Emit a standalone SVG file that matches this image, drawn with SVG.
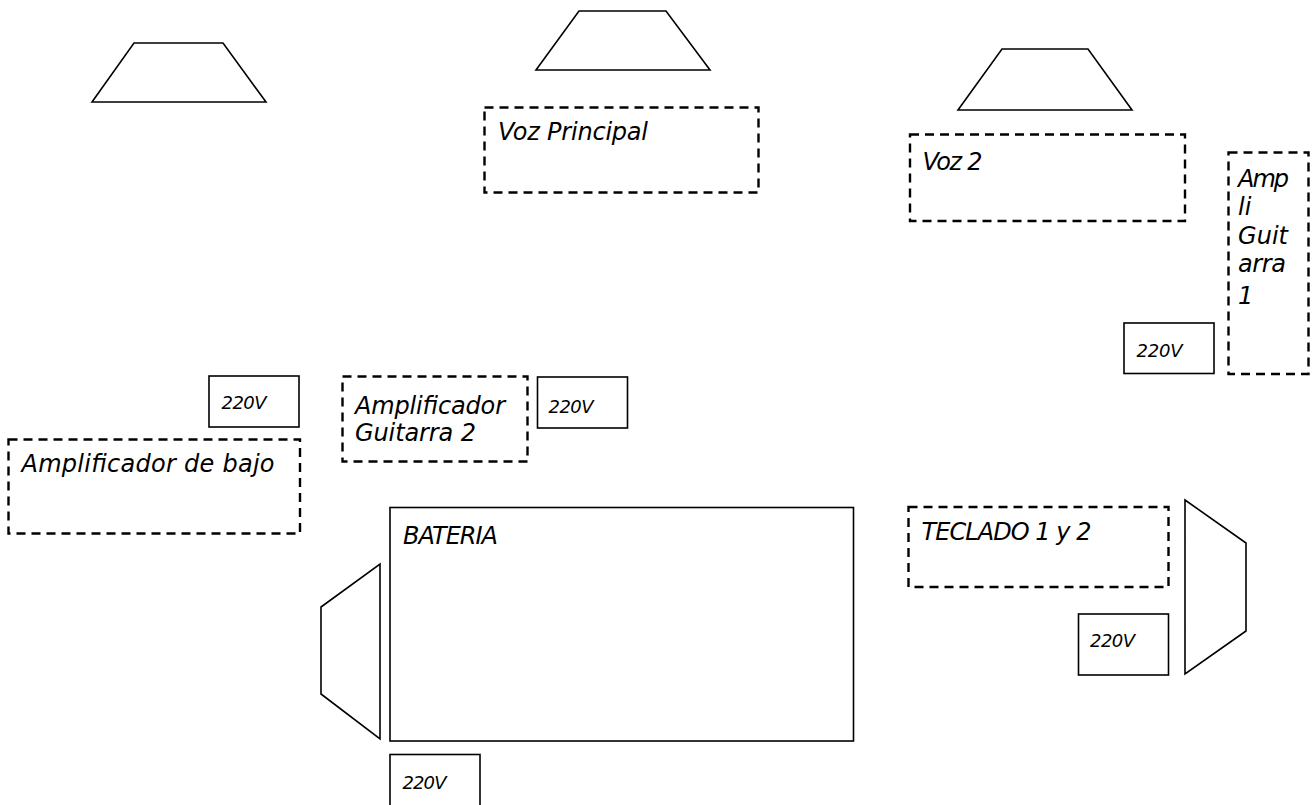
<svg xmlns="http://www.w3.org/2000/svg" width="1312" height="805" viewBox="0 0 1312 805">
<style>
.bg{fill:#ffffff}
.spk{fill:#ffffff;stroke:#000;stroke-width:1.6;stroke-linejoin:miter}
.solid{fill:#ffffff;stroke:#000;stroke-width:1.6}
.dash{fill:#ffffff;stroke:#000;stroke-width:2.4;stroke-dasharray:9 6}
.lbl{font-family:"DejaVu Sans",sans-serif;font-style:italic;font-size:24px;fill:#000}
.pw{font-family:"DejaVu Sans",sans-serif;font-style:italic;font-size:18px;fill:#000}
</style>
<rect class="bg" x="0" y="0" width="1312" height="805"/>
<g id="speaker-1"><polygon class="spk" points="134,43 223,43 266,102 92,102"/></g>
<g id="speaker-2"><polygon class="spk" points="579,11 666,11 710,70 536,70"/></g>
<g id="speaker-3"><polygon class="spk" points="1002,49 1088,49 1132,110 958,110"/></g>
<g id="speaker-drums"><polygon class="spk" points="380,564 380,739 321,694 321,607"/></g>
<g id="speaker-keys"><polygon class="spk" points="1185,500 1246,543 1246,631 1185,674"/></g>

<g id="voz-principal">
<rect class="dash" x="484.5" y="107.5" width="274" height="85"/>
<text class="lbl" x="498" y="139.5" textLength="150">Voz Principal</text>
</g>
<g id="voz-2">
<rect class="dash" x="910" y="134.5" width="275" height="86.5"/>
<text class="lbl" x="922.5" y="169.5" textLength="60">Voz 2</text>
</g>
<g id="ampli-guitarra-1">
<rect class="dash" x="1228.5" y="152.5" width="80" height="221.5"/>
<text class="lbl" x="1238" y="186.5" textLength="51">Amp</text>
<text class="lbl" x="1238" y="215">li</text>
<text class="lbl" x="1238" y="243.5" textLength="50">Guit</text>
<text class="lbl" x="1238" y="272" textLength="48">arra</text>
<text class="lbl" x="1238" y="304">1</text>
</g>
<g id="power-1">
<rect class="solid" x="1124" y="323" width="90" height="50.5"/>
<text class="pw" x="1136.5" y="357" textLength="46">220V</text>
</g>
<g id="power-bajo">
<rect class="solid" x="209" y="376" width="90" height="51"/>
<text class="pw" x="221.5" y="408.5" textLength="45">220V</text>
</g>
<g id="amplificador-bajo">
<rect class="dash" x="8.5" y="439.5" width="291.5" height="94"/>
<text class="lbl" x="21.5" y="472" textLength="253">Amplificador de bajo</text>
</g>
<g id="amplificador-guitarra-2">
<rect class="dash" x="342.5" y="376.5" width="185" height="85"/>
<text class="lbl" x="355" y="413.5" textLength="150">Amplificador</text>
<text class="lbl" x="355" y="441" textLength="121">Guitarra 2</text>
</g>
<g id="power-guitarra-2">
<rect class="solid" x="537.5" y="377" width="90" height="51"/>
<text class="pw" x="548.5" y="413" textLength="45">220V</text>
</g>
<g id="bateria">
<rect class="solid" x="390" y="507.5" width="463.5" height="233.5"/>
<text class="lbl" x="403" y="543.5" textLength="95">BATERIA</text>
</g>
<g id="power-bateria">
<rect class="solid" x="390" y="754.5" width="90" height="60"/>
<text class="pw" x="402.5" y="788.5" textLength="44">220V</text>
</g>
<g id="teclado">
<rect class="dash" x="908.5" y="507" width="260" height="80"/>
<text class="lbl" x="921.5" y="540" textLength="170">TECLADO 1 y 2</text>
</g>
<g id="power-teclado">
<rect class="solid" x="1078.5" y="614" width="90" height="61"/>
<text class="pw" x="1090" y="647" textLength="45">220V</text>
</g>
<g id="connectors"></g>
</svg>
